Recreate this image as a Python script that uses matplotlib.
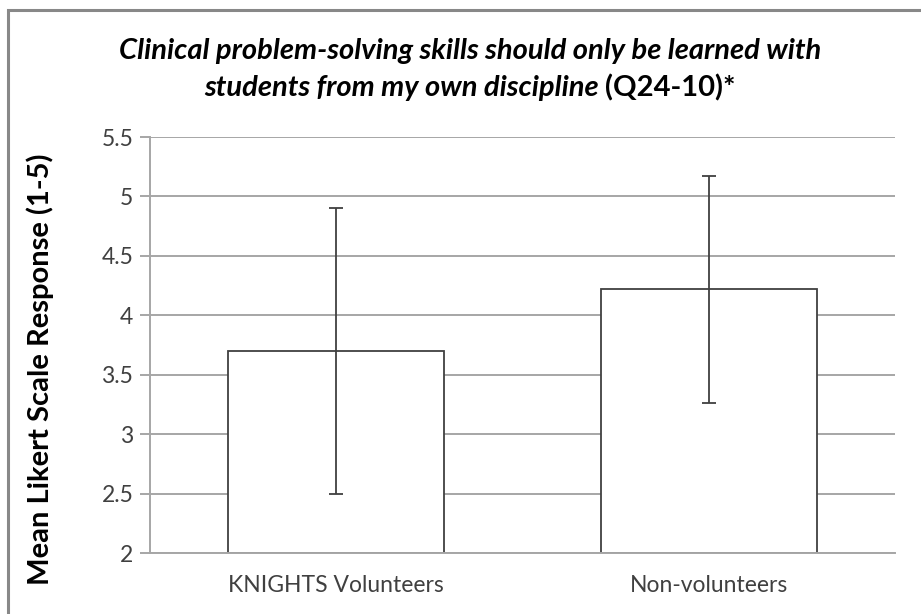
import matplotlib
matplotlib.use("Agg")
import matplotlib.pyplot as plt
from matplotlib.patches import Rectangle

categories = ["KNIGHTS Volunteers", "Non-volunteers"]
means = [3.70, 4.22]
sds = [1.20, 0.955]
yticks = [2, 2.5, 3, 3.5, 4, 4.5, 5, 5.5]
ytick_labels = ["2", "2.5", "3", "3.5", "4", "4.5", "5", "5.5"]

FONT = ["Lato", "DejaVu Sans"]
plt.rcParams['font.family'] = FONT

fig = plt.figure(figsize=(9.21, 6.14), dpi=100)
ax = fig.add_axes([150/921, 1-553/614, (895-150)/921, (553-137)/614])

x = list(range(len(categories)))
ax.bar(x, [m - 2 for m in means], bottom=2, width=0.58, color="white",
       edgecolor="#404040", linewidth=1.3, zorder=2)
ax.errorbar(x, means, yerr=sds, fmt="none", ecolor="#404040",
            elinewidth=1.3, capsize=5, capthick=1.3, zorder=3)

ax.set_xlim(-0.5, 1.5)
ax.set_ylim(2, 5.5)
ax.set_yticks(yticks)
ax.set_yticklabels(ytick_labels)
ax.set_xticks(x)
ax.set_xticklabels(categories)
ax.set_axisbelow(True)
ax.yaxis.grid(True, color="#a6a6a6", linewidth=1.4)
for s in ["top", "right"]:
    ax.spines[s].set_visible(False)
for s in ["left", "bottom"]:
    ax.spines[s].set_color("#a6a6a6")
    ax.spines[s].set_linewidth(1.4)
ax.tick_params(axis="y", length=7, width=1.4, color="#a6a6a6",
               labelsize=16.5, labelcolor="#404040", pad=5)
ax.tick_params(axis="x", length=0, labelsize=16.5, labelcolor="#404040", pad=16)

ax.set_ylabel("Mean Likert Scale Response (1-5)", fontsize=21, fontweight="bold",
              color="black")
ax.yaxis.label.set_verticalalignment("center")
ax.yaxis.set_label_coords((40-150)/745, (553-369)/416)

# outer border (top and left visible)
fig.patches.append(Rectangle((8/921, -0.1), 1.2, (1-10/614) + 0.1,
                             transform=fig.transFigure, fill=False,
                             edgecolor="#888888", linewidth=2.2))

# title
cx = 470/921
fig.text(cx, 1-51/614, "Clinical problem-solving skills should only be learned with",
         ha="center", va="center", fontsize=21, fontweight="bold", style="italic")
fig.canvas.draw()
r = fig.canvas.get_renderer()
ta = fig.text(0, 1-88/614, "students from my own discipline ", ha="left", va="center",
              fontsize=21, fontweight="bold", style="italic")
tb = fig.text(0, 1-88/614, "(Q24-10)*", ha="left", va="center",
              fontsize=21, fontweight="bold")
wa = ta.get_window_extent(r).width
wb = tb.get_window_extent(r).width
total = wa + wb
x0 = cx * 921 - total / 2
ta.set_x(x0 / 921)
tb.set_x((x0 + wa) / 921)

fig.savefig("out.png", dpi=100)
